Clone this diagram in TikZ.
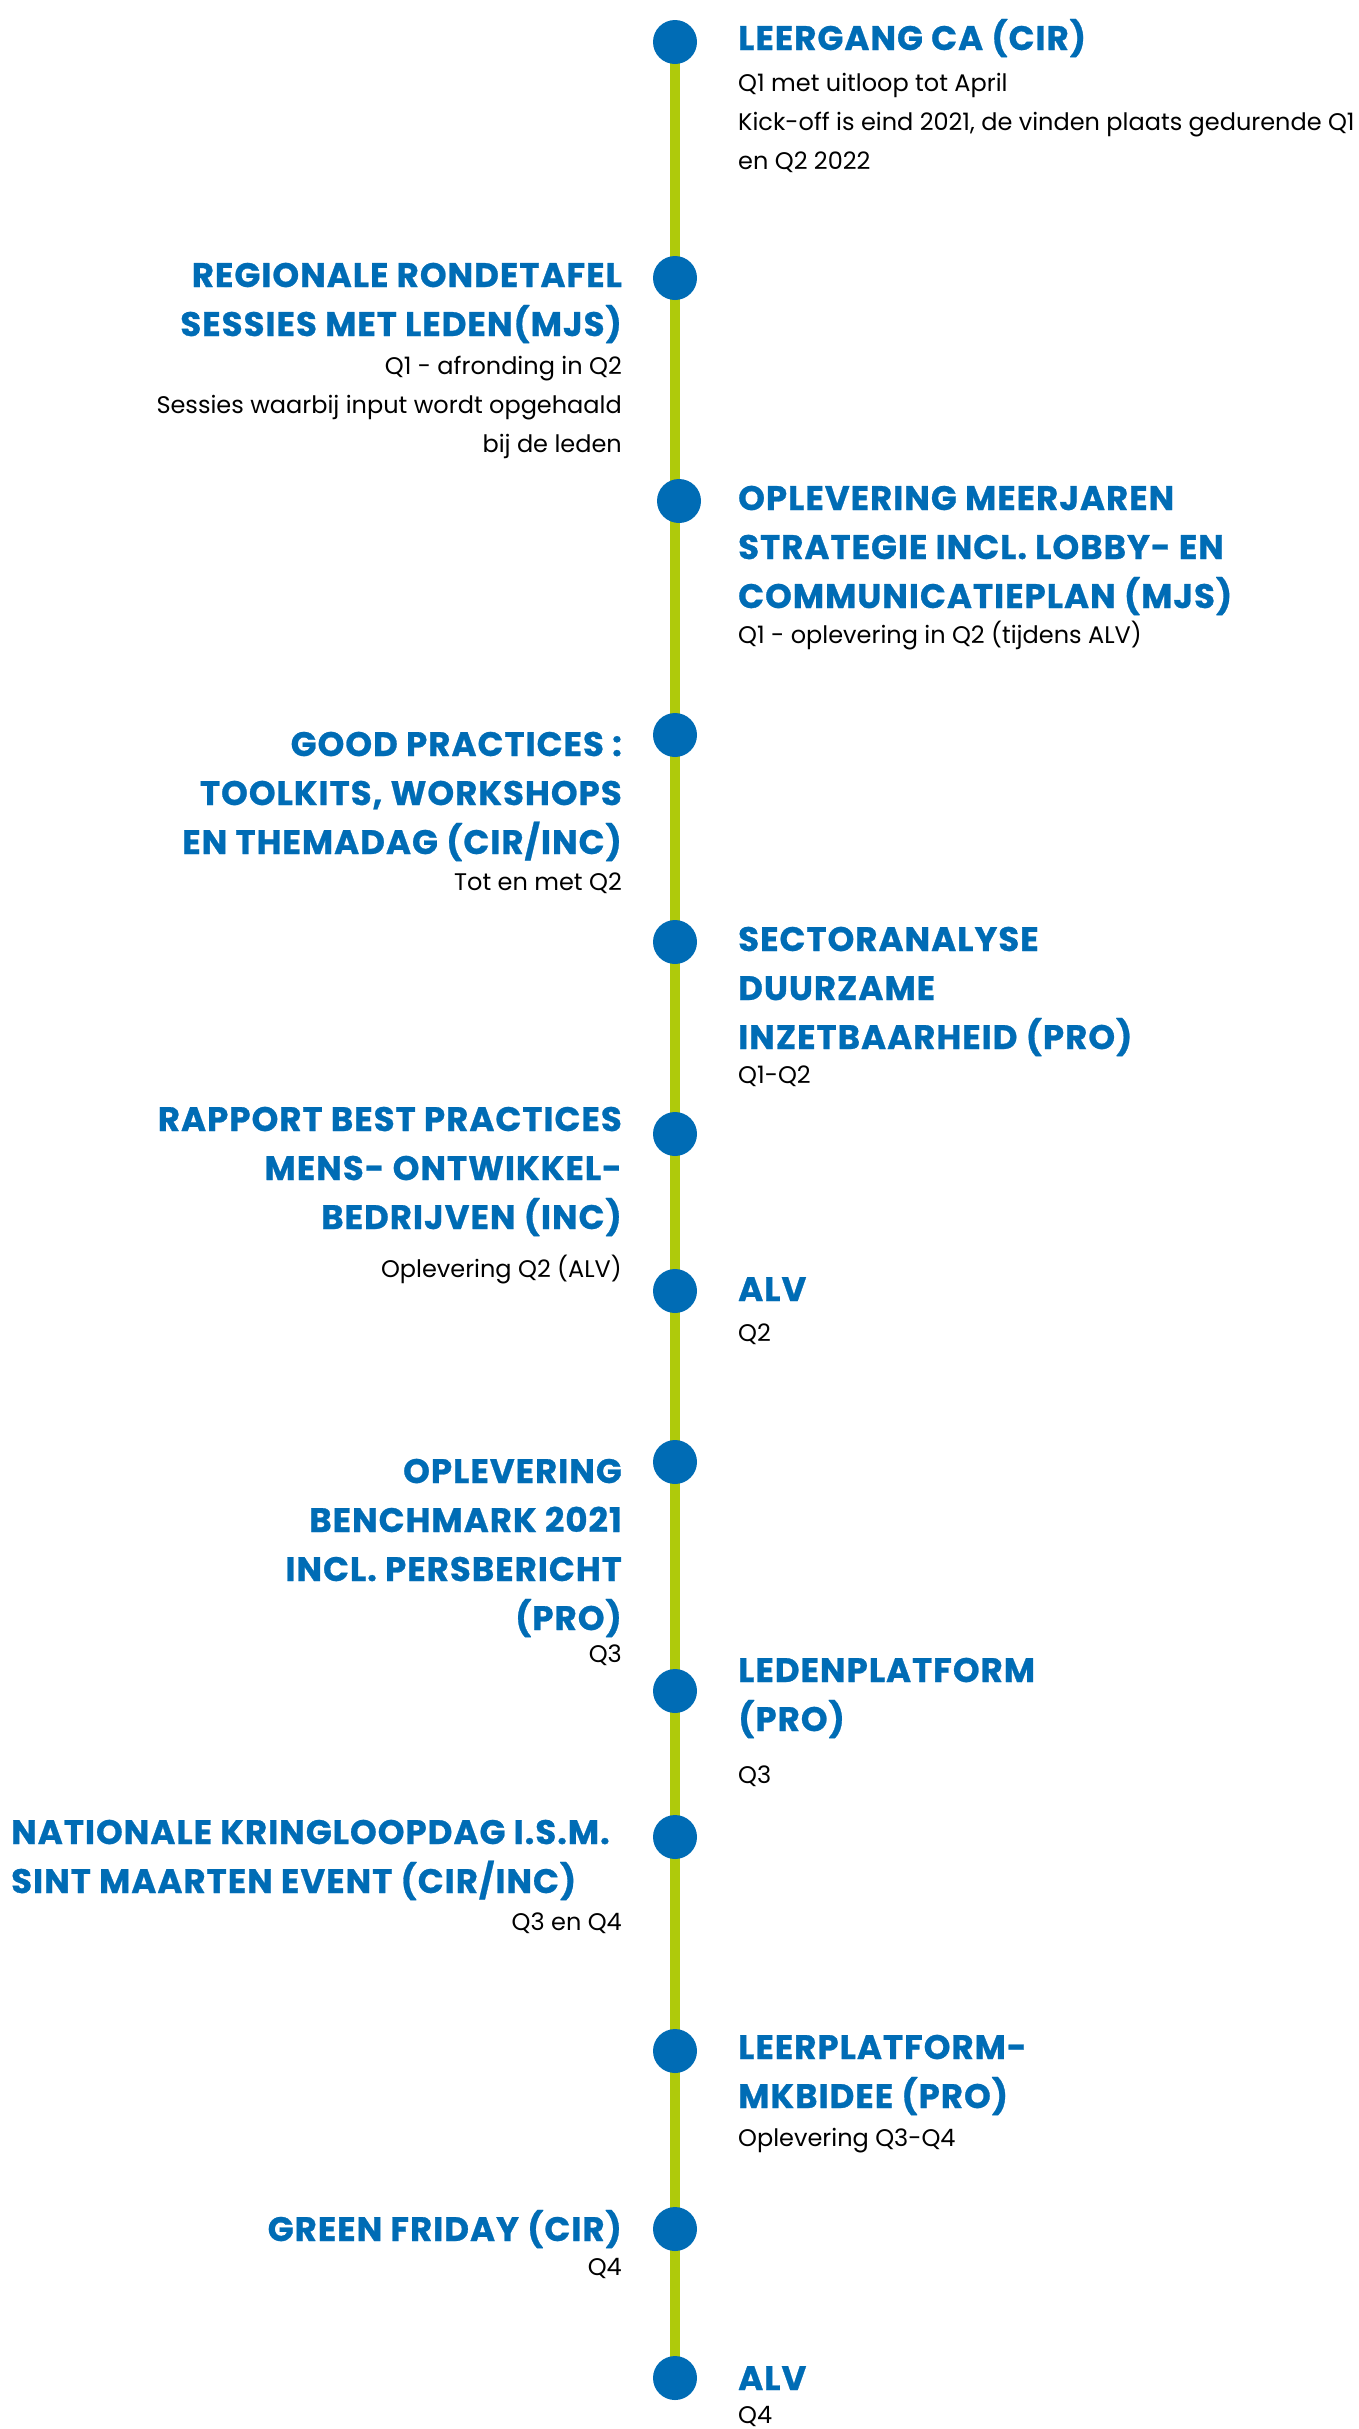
\documentclass[tikz,border=0pt]{standalone}
\usepackage{fontspec}
\setmainfont{Poppins}
\newfontfamily\ttlfont{Poppins}[LetterSpace=3, BoldFeatures={FakeBold=0.8}]
\usepackage{tikz}
\usetikzlibrary{positioning,backgrounds}
\definecolor{planblue}{HTML}{006CB5}
\definecolor{plangreen}{HTML}{AFCA0B}

\begin{document}
\begin{tikzpicture}[x=1pt, y=-1pt,
    dot/.style={circle, fill=planblue, minimum size=44pt, inner sep=0pt},
    ttlR/.style={anchor=base west, align=left, inner sep=0pt, text=planblue, font=\ttlfont\bfseries\fontsize{34}{49}\selectfont},
    ttlL/.style={ttlR, anchor=base east, align=right},
    txtR/.style={anchor=base west, align=left, inner sep=0pt, font=\fontsize{24}{39}\selectfont},
    txtL/.style={txtR, anchor=base east, align=right}]
    \useasboundingbox (0,0) rectangle (1359,2429);

    % Milestones on the time line
    \node[dot] (d1) at (675,42) {};
    \node[dot] (d2) at (675,278) {};
    \node[dot] (d3) at (679,501) {};
    \node[dot] (d4) at (675,735) {};
    \node[dot] (d5) at (675,942) {};
    \node[dot] (d6) at (675,1134) {};
    \node[dot] (d7) at (675,1291) {};
    \node[dot] (d8) at (675,1462) {};
    \node[dot] (d9) at (675,1691) {};
    \node[dot] (d10) at (675,1837) {};
    \node[dot] (d11) at (675,2051) {};
    \node[dot] (d12) at (675,2229) {};
    \node[dot] (d13) at (675,2378) {};

    % Time line
    \begin{scope}[on background layer]
        \draw[plangreen, line width=10pt] (d1.center) -- (d13.center);
    \end{scope}

    % Q1 - Q2 (nodes sit on the baseline of their last line)
    \node[ttlR] (t1) at (738,50) {LEERGANG CA (CIR)};
    \node[txtR] (s1) at (738,169) {Q1 met uitloop tot April\\Kick-off is eind 2021, de vinden plaats gedurende Q1\\en Q2 2022};

    \node[ttlL] (t2) at (622,336) {REGIONALE RONDETAFEL\\SESSIES MET LEDEN(MJS)};
    \node[txtL] (s2) at (622,452) {Q1 - afronding in Q2\\Sessies waarbij input wordt opgehaald\\bij de leden};

    \node[ttlR] (t3) at (738,608) {OPLEVERING MEERJAREN\\STRATEGIE INCL. LOBBY- EN\\COMMUNICATIEPLAN (MJS)};
    \node[txtR] (s3) at (738,643) {Q1 - oplevering in Q2 (tijdens ALV)};

    \node[ttlL] (t4) at (622,854) {GOOD PRACTICES :\\TOOLKITS, WORKSHOPS\\EN THEMADAG (CIR/INC)};
    \node[txtL] (s4) at (622,890) {Tot en met Q2};

    \node[ttlR] (t5) at (738,1049) {SECTORANALYSE\\DUURZAME\\INZETBAARHEID (PRO)};
    \node[txtR] (s5) at (738,1083) {Q1-Q2};

    \node[ttlL] (t6) at (622,1229) {RAPPORT BEST PRACTICES\\MENS- ONTWIKKEL-\\BEDRIJVEN (INC)};
    \node[txtL] (s6) at (622,1277) {Oplevering Q2 (ALV)};

    \node[ttlR] (t7) at (738,1301) {ALV};
    \node[txtR] (s7) at (738,1341) {Q2};

    % Q3 - Q4
    \node[ttlL] (t8) at (622,1630) {OPLEVERING\\BENCHMARK 2021\\INCL. PERSBERICHT\\(PRO)};
    \node[txtL] (s8) at (622,1662) {Q3};

    \node[ttlR] (t9) at (738,1731) {LEDENPLATFORM\\(PRO)};
    \node[txtR] (s9) at (738,1783) {Q3};

    \node[ttlR] (t10) at (11,1893) {NATIONALE KRINGLOOPDAG I.S.M.\\SINT MAARTEN EVENT (CIR/INC)};
    \node[txtL] (s10) at (622,1930) {Q3 en Q4};

    \node[ttlR] (t11) at (738,2108) {LEERPLATFORM-\\MKBIDEE (PRO)};
    \node[txtR] (s11) at (738,2146) {Oplevering Q3-Q4};

    \node[ttlL] (t12) at (622,2241) {GREEN FRIDAY (CIR)};
    \node[txtL] (s12) at (622,2275) {Q4};

    \node[ttlR] (t13) at (738,2390) {ALV};
    \node[txtR] (s13) at (738,2423) {Q4};
\end{tikzpicture}
\end{document}
